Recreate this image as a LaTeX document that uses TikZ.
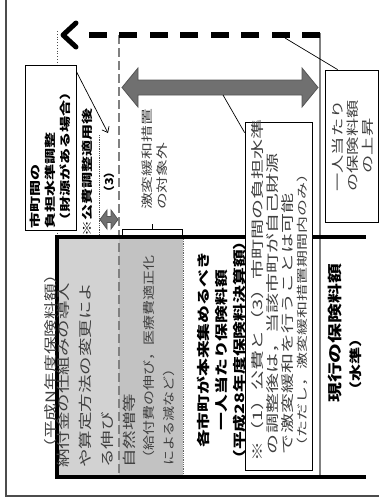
\documentclass[tikz,border=0pt]{standalone}
\usepackage{fontspec}
\newfontfamily\jpA[FakeStretch=1.25]{Noto Sans CJK JP}
\newfontfamily\jpB[FakeStretch=1.37]{Noto Sans CJK JP}
\newfontfamily\jpC[FakeStretch=1.46]{Noto Sans CJK JP}
\newfontfamily\jpD[FakeStretch=1.54]{Noto Sans CJK JP}
\newfontfamily\jpE[FakeStretch=1.15]{Noto Sans CJK JP}
\usetikzlibrary{arrows.meta,calc}
\newcommand{\vl}[1]{\begin{tabular}{@{}l@{}}#1\end{tabular}}
\newcommand{\vc}[1]{\begin{tabular}{@{}c@{}}#1\end{tabular}}
\definecolor{grayL}{RGB}{210,210,210}
\definecolor{grayD}{RGB}{194,194,194}
\definecolor{arrowgray}{RGB}{112,112,112}
\definecolor{arrowedge}{RGB}{85,85,85}
\definecolor{lineGray}{RGB}{128,128,128}
\begin{document}
\begin{tikzpicture}[x=1pt,y=-1pt,
  vt/.style={rotate=90, inner sep=0pt, anchor=north west, text=black!75},
  vtc/.style={rotate=90, inner sep=0pt, anchor=center, text=black!75},
  boxst/.style={draw=black, fill=white, line width=0.8pt, inner sep=0pt},
  conn/.style={line width=0.7pt},
  heavy/.style={line width=4.5pt},
  garrow/.style={fill=arrowgray, draw=arrowedge, line width=0.8pt}]
\useasboundingbox (0,0) rectangle (379,504);
% frame
\draw[line width=1.2pt, black!70] (6,-2) -- (6,496) -- (381,496);
% gray fills
\fill[grayL] (59,239) rectangle (119,475);
\fill[grayD] (119,239) rectangle (183,475);
\draw[densely dotted, line width=0.8pt, black!60] (183.5,239) -- (183.5,475);
% guide lines
\coordinate (dr) at (320,35);
\coordinate (dl) at (63,35);
\draw[lineGray, line width=1.2pt] (320,33) -- (320,477);
\draw[lineGray, line width=1.3pt, dash pattern=on 9pt off 4pt] (119,35) -- (119,477);
\draw[dotted, line width=0.8pt, black!70] (57,31) -- (57,237);
\draw[densely dotted, line width=0.8pt, black!70] (99,135) -- (99,237);
% heavy lines
\draw[heavy] (55,237) -- (366,237);
\draw[heavy] (55,477) -- (366,477);
\draw[heavy] (57,235) -- (57,479);
% dashed arrow
\draw[line width=6pt, dash pattern=on 18pt off 12.5pt] (dr) -- (86,35);
\draw[line width=5pt, line join=round, line cap=round] (76,23) -- (dl) -- (76,47);
% big double arrow
\filldraw[garrow] (122,87.5) -- (138,68) -- (138,80) -- (302,80) -- (302,68) -- (318,87.5) -- (302,107) -- (302,95) -- (138,95) -- (138,107) -- cycle;
\coordinate (bigA) at (223,95);
% small double arrow
\filldraw[garrow] (100,219.5) -- (107,210) -- (107,216.5) -- (111,216.5) -- (111,210) -- (118,219.5) -- (111,229) -- (111,222.5) -- (107,222.5) -- (107,229) -- cycle;
% bracket
\draw[line width=0.8pt] (122,235) -- (122,229) -- (182,229) -- (182,235) (152,229) -- (152,224);
% boxes
\node[boxst, minimum width=51pt, minimum height=165pt] (boxA) at (50.5,147.5) {};
\node[boxst, minimum width=67pt, minimum height=348pt] (boxB) at (278.5,296) {};
\node[boxst, minimum width=53pt, minimum height=152pt] (boxC) at (351.5,146) {};
% connectors
\coordinate (a3) at (108,133);
\coordinate (dashC) at (285,38);
\draw[conn, -{Straight Barb[length=5pt,width=8pt]}] ($(boxA.north east)+(0,7)$) -- (a3);
\draw[conn] (dashC) -- ($(boxC.north west)+(13,0)$);
\draw[conn] (bigA) -- ($(boxB.north west)+(0,11)$);
% texts
\node[vt, text=black, font=\jpC\bfseries\fontsize{11}{15}\selectfont] (tA) at (28.7,229) {\vl{市町間の\\負担水準調整\\（財源がある場合）}};
\node[vt, text=black, font=\jpC\bfseries\fontsize{11}{15}\selectfont] (tB) at (80.7,237) {\vl{※公費調整適用後}};
\node[vtc, text=black, font=\jpE\bfseries\fontsize{11}{15}\selectfont] (t3) at (110,182) {\vl{（3）}};
\node[vt, font=\jpC\fontsize{11.5}{15}\selectfont] (tC) at (140.9,210) {\vl{激変緩和措置\\の対象外}};
\node[vt, font=\jpB\fontsize{13}{18}\selectfont] (tD) at (42.3,457) {\vl{（平成N年度保険料額）}};
\node[vt, font=\jpB\fontsize{13.5}{22}\selectfont] (tE) at (53.2,468) {\vl{納付金の仕組みの導入\\や算定方法の変更によ\\る伸び\\自然増等}};
\node[vt, font=\jpA\fontsize{12}{20}\selectfont] (tG) at (139.6,466) {\vl{（給付費の伸び，医療費適正化\\による減など）}};
\node[vtc, text=black, font=\jpB\bfseries\fontsize{13}{18}\selectfont] (tH) at (222.5,350) {\vc{各市町が本来集めるべき\\一人当たり保険料額\\（平成28年度保険料決算額）}};
\node[vt, font=\jpD\fontsize{13}{13.5}\selectfont] (tI) at (251.5,462) {\vl{※（1）公費と（3）市町間の負担水準\\\hspace{0.6em}の調整後は，当該市町が自己財源\\\hspace{0.6em}で激変緩和を行うことは可能\\\hspace{0.6em}{\fontsize{11}{13.5}\selectfont（ただし，激変緩和措置期間内のみ）}}};
\node[vt, text=black, font=\jpB\bfseries\fontsize{14.5}{20}\selectfont] (tJ) at (326.5,403) {\vl{現行の保険料額\\\hspace{4pt}{\fontsize{12.5}{20}\selectfont（水準）}}};
\node[vtc, font=\jpC\fontsize{12.5}{14.5}\selectfont] (tK) at (354.3,146) {\vc{一人当たり\\の保険料額\\の上昇}};
\end{tikzpicture}
\end{document}
